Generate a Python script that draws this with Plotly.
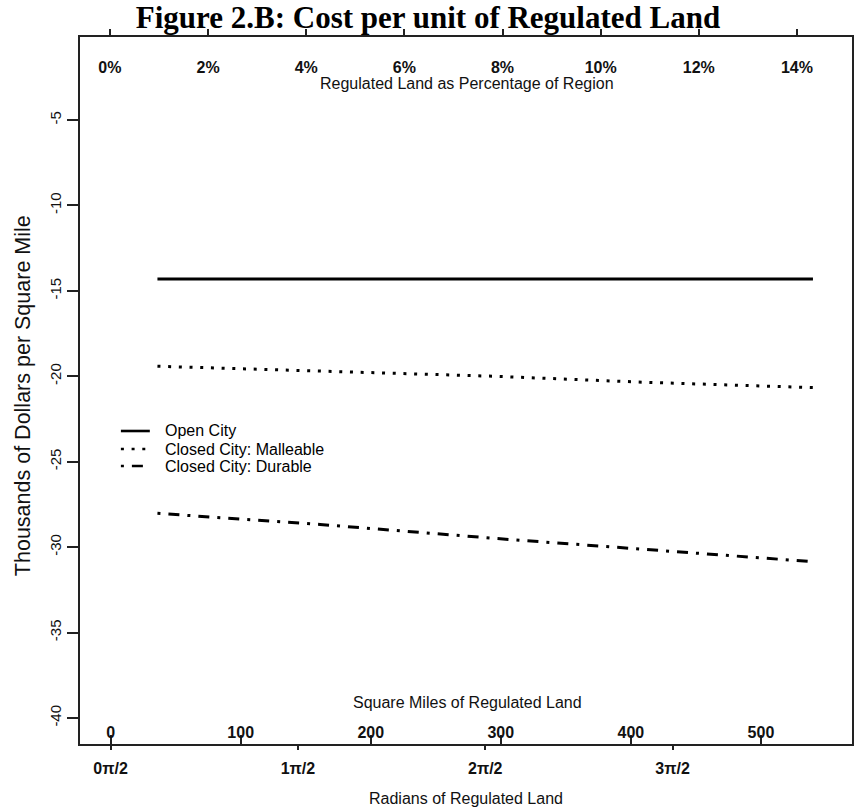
import plotly.graph_objects as go

# Regulated land (square miles) and cost per square mile (thousands of dollars)
sq_miles = [36, 161, 296, 411, 540]
open_city = [-14.3, -14.3, -14.3, -14.3, -14.3]
closed_malleable = [-19.41, -19.70, -20.00, -20.35, -20.66]
closed_durable = [-28.02, -28.67, -29.49, -30.13, -30.85]

series_names = ["Open City", "Closed City: Malleable", "Closed City: Durable"]

# Axis ticks
y_ticks = [-40, -35, -30, -25, -20, -15, -10, -5]
sqmi_ticks = [0, 100, 200, 300, 400, 500]
pct_ticks = [0, 2, 4, 6, 8, 10, 12, 14]
pct_labels = ["0%", "2%", "4%", "6%", "8%", "10%", "12%", "14%"]
rad_ticks = [0, 1.5707963, 3.1415927, 4.7123890]
rad_labels = ["0\u03c0/2", "1\u03c0/2", "2\u03c0/2", "3\u03c0/2"]

W, H = 857, 809
L, R, T, B = 80, 854, 37, 744

SANS = "Liberation Sans, Arial, sans-serif"
SERIF = "Liberation Serif, Times New Roman, serif"
INK = "#111111"

dash_styles = ["solid", "3px,7.7px", "3px,8px,11px,8px"]
values = [open_city, closed_malleable, closed_durable]


def px_x(p):
    return (p - L) / (R - L)


def px_y(p):
    return (B - p) / (B - T)


fig = go.Figure()
for name, vals, dash in zip(series_names, values, dash_styles):
    fig.add_trace(go.Scatter(
        x=sq_miles, y=vals, mode="lines", name=name, showlegend=False,
        line=dict(color="black", width=3, dash=dash),
    ))

# invisible traces to activate the secondary x axes
fig.add_trace(go.Scatter(x=[0], y=[None], xaxis="x2", showlegend=False, hoverinfo="skip"))
fig.add_trace(go.Scatter(x=[0], y=[None], xaxis="x3", showlegend=False, hoverinfo="skip"))

# legend drawn as sample lines and labels
leg_rows = [431, 449, 466]
annotations = []
shapes = []
for name, dash, ry in zip(series_names, dash_styles, leg_rows):
    shapes.append(dict(type="line", xref="paper", yref="paper",
                       x0=px_x(121), x1=px_x(150), y0=px_y(ry), y1=px_y(ry),
                       line=dict(color="black", width=2.6, dash=dash)))
    annotations.append(dict(xref="paper", yref="paper", x=px_x(163), y=px_y(ry),
                            xanchor="left", yanchor="middle", showarrow=False,
                            text=name, font=dict(family=SANS, size=16, color="#000")))

# axis titles
annotations += [
    dict(xref="paper", yref="paper", x=px_x(468), y=px_y(83), showarrow=False,
         text="Regulated Land as Percentage of Region", xanchor="center", yanchor="middle",
         font=dict(family=SANS, size=16, color=INK)),
    dict(xref="paper", yref="paper", x=px_x(469), y=px_y(702), showarrow=False,
         text="Square Miles of Regulated Land", xanchor="center", yanchor="middle",
         font=dict(family=SANS, size=16, color=INK)),
    dict(xref="paper", yref="paper", x=px_x(467), y=px_y(798), showarrow=False,
         text="Radians of Regulated Land", xanchor="center", yanchor="middle",
         font=dict(family=SANS, size=16, color=INK)),
    dict(xref="paper", yref="paper", x=px_x(23), y=px_y(396), showarrow=False,
         text="Thousands of Dollars per Square Mile", textangle=-90,
         xanchor="center", yanchor="middle",
         font=dict(family=SANS, size=21.5, color=INK)),
]

sqmi_range = [(L - 110.7) / 1.304, (R - 110.7) / 1.304]
rad_range = [(L - 110.7) / 119.56, (R - 110.7) / 119.56]
pct_range = [(L - 110) / 49.2, (R - 110) / 49.2]
y_range = [-41.52, -0.14]

fig.update_layout(
    width=W, height=H,
    margin=dict(l=L, r=W - R, t=T, b=H - B, pad=0),
    paper_bgcolor="white", plot_bgcolor="white",
    title=dict(text="<b>Figure 2.B: Cost per unit of Regulated Land</b>",
               x=428 / W, xanchor="center", y=1 - 17 / H, yanchor="middle",
               yref="container", xref="container",
               font=dict(family=SERIF, size=31, color="black")),
    xaxis=dict(range=sqmi_range, tickvals=sqmi_ticks, ticktext=[str(v) for v in sqmi_ticks],
               ticks="inside", ticklen=9, tickwidth=1.5, tickcolor="#222",
               ticklabelposition="inside", ticklabelstandoff=-6,
               tickfont=dict(family=SANS, size=16, color=INK, weight="bold"),
               showline=True, linecolor="#222", linewidth=2, mirror=True,
               showgrid=False, zeroline=False),
    xaxis2=dict(range=rad_range, overlaying="x", anchor="y", side="bottom",
                tickvals=rad_ticks, ticktext=rad_labels,
                ticks="outside", ticklen=5, tickwidth=1.5, tickcolor="#222",
                ticklabelstandoff=5,
                tickfont=dict(family=SANS, size=16, color=INK, weight="bold"),
                showline=False, showgrid=False, zeroline=False),
    xaxis3=dict(range=pct_range, overlaying="x", anchor="y", side="top",
                tickvals=pct_ticks, ticktext=pct_labels,
                ticks="outside", ticklen=7, tickwidth=1.5, tickcolor="#222",
                ticklabelposition="inside", ticklabelstandoff=22,
                tickfont=dict(family=SANS, size=16, color=INK, weight="bold"),
                showline=False, showgrid=False, zeroline=False),
    yaxis=dict(range=y_range, tickvals=y_ticks, ticktext=[str(v) for v in y_ticks],
               ticks="outside", ticklen=11, tickwidth=1.5, tickcolor="#222",
               tickangle=-90,
               tickfont=dict(family=SANS, size=15, color=INK),
               showline=True, linecolor="#222", linewidth=2, mirror=True,
               showgrid=False, zeroline=False),
    shapes=shapes,
    annotations=annotations,
)

fig.write_html("out.html")
